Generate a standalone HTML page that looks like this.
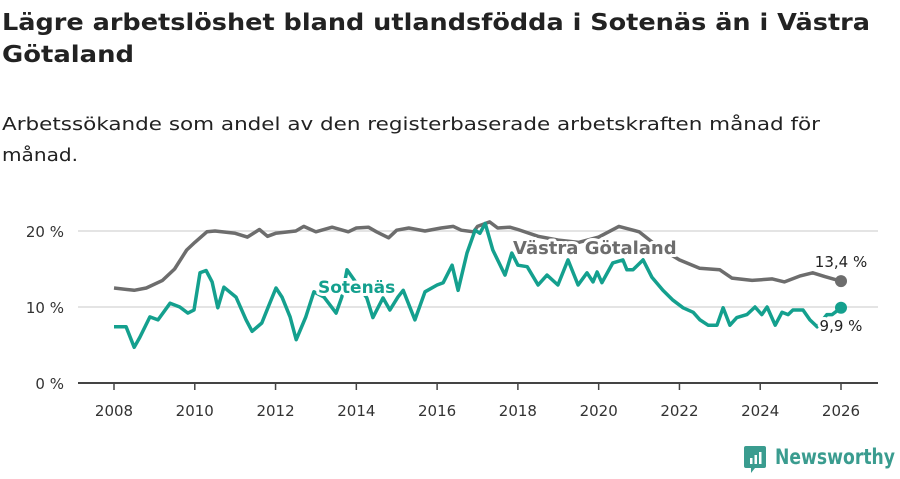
<!DOCTYPE html>
<html><head><meta charset="utf-8"><style>
body{margin:0;background:#fff;}
svg text{font-family:"DejaVu Sans","Liberation Sans",sans-serif;}
</style></head><body>
<svg id="chart" width="900" height="474" viewBox="0 0 900 474" xmlns="http://www.w3.org/2000/svg">
<rect width="900" height="474" fill="#fff"/>
<text x="2" y="30" font-size="23" font-weight="bold" fill="#222" textLength="868" lengthAdjust="spacingAndGlyphs">Lägre arbetslöshet bland utlandsfödda i Sotenäs än i Västra</text>
<text x="2" y="62" font-size="23" font-weight="bold" fill="#222" textLength="132" lengthAdjust="spacingAndGlyphs">Götaland</text>
<text x="2" y="130" font-size="18" fill="#222" textLength="818" lengthAdjust="spacingAndGlyphs">Arbetssökande som andel av den registerbaserade arbetskraften månad för</text>
<text x="2" y="161" font-size="18" fill="#222" textLength="76" lengthAdjust="spacingAndGlyphs">månad.</text>
<g id="grid"></g><g id="axes"></g><g id="series"></g><g id="labels"></g>
<g>
<path d="M746 446 h18 a2 2 0 0 1 2 2 v18 a2 2 0 0 1 -2 2 h-9 l-4 5 v-5 h-5 a2 2 0 0 1 -2 -2 v-18 a2 2 0 0 1 2 -2z" fill="#3a9c8f"/>
<rect x="750" y="458" width="2.5" height="6" fill="#fff"/><rect x="754.5" y="455" width="2.5" height="9" fill="#fff"/><rect x="759" y="452" width="2.5" height="12" fill="#fff"/>
<text x="775" y="464" font-size="21" font-weight="bold" fill="#3a9c8f" textLength="120" lengthAdjust="spacingAndGlyphs">Newsworthy</text>
</g>
</svg>
<script>
const yTicks=[0,10,20];
const yTickLabels=["0 %","10 %","20 %"];
const xTicks=[2008,2010,2012,2014,2016,2018,2020,2022,2024,2026];
const vgDates=[2008.0,2008.5,2008.8,2009.2,2009.5,2009.8,2010.0,2010.3,2010.5,2011.0,2011.3,2011.6,2011.8,2012.0,2012.5,2012.7,2013.0,2013.4,2013.8,2014.0,2014.3,2014.5,2014.8,2015.0,2015.3,2015.7,2016.1,2016.4,2016.6,2016.9,2017.0,2017.3,2017.5,2017.8,2018.0,2018.5,2019.0,2019.5,2020.0,2020.5,2021.0,2021.5,2022.0,2022.5,2023.0,2023.3,2023.8,2024.3,2024.6,2025.0,2025.3,2025.6,2026.0];
const vgValues=[12.5,12.2,12.5,13.5,15,17.5,18.5,19.9,20,19.7,19.2,20.2,19.3,19.7,20,20.6,19.9,20.5,19.9,20.4,20.5,19.9,19.1,20.1,20.4,20,20.4,20.6,20.1,19.9,20.6,21.2,20.4,20.5,20.2,19.3,18.8,18.5,19.2,20.6,19.9,17.8,16.2,15.1,14.9,13.8,13.5,13.7,13.3,14.1,14.5,14,13.4];
const soXs=[114,126,134,140,150,158,170,180,188,194,200,206,212,218,224,236,246,252,262,268,276,282,290,296,306,314,324,336,342,347,367,373,383,390,398,403,415,425,437,443,452,458,467,475,480,485,493,505,512,518,527,538,547,558,568,578,587,593,597,602,613,623,627,633,643,652,663,673,683,693,700,708,717,723,730,737,747,755,762,767,775,782,788,793,803,810,817,827,832,841];
const soDates=soXs.map(x=>+(2008+(x-114)/40.39).toFixed(2));
const soValues=[7.4,7.4,4.7,6,8.7,8.3,10.5,10,9.2,9.6,14.5,14.8,13.3,9.9,12.6,11.3,8.3,6.8,7.9,9.9,12.5,11.3,8.7,5.7,8.7,12,11.3,9.2,11.3,14.9,11.2,8.6,11.2,9.6,11.3,12.2,8.3,12,12.9,13.2,15.5,12.2,17.1,20.1,19.7,21,17.5,14.2,17.1,15.5,15.3,12.9,14.2,12.9,16.2,12.9,14.5,13.3,14.6,13.2,15.8,16.2,14.9,14.9,16.2,13.9,12.2,10.9,9.9,9.3,8.3,7.6,7.6,9.9,7.6,8.6,9,10,9,10,7.6,9.3,9,9.6,9.6,8.3,7.4,9,9,9.9];
const NS="http://www.w3.org/2000/svg";
const X0=114,X1=841,Y0=383,PY=7.6;
function xs(d){return X0+(d-2008)*(X1-X0)/18;}
function ys(v){return Y0-v*PY;}
function mk(t,a,p){const e=document.createElementNS(NS,t);for(const k in a)e.setAttribute(k,a[k]);p.appendChild(e);return e;}
const grid=document.getElementById('grid'),axes=document.getElementById('axes'),ser=document.getElementById('series'),lab=document.getElementById('labels');
yTicks.forEach((v,i)=>{
 if(v>0){const g=mk('line',{x1:78,x2:878,y1:ys(v),y2:ys(v),stroke:'#dcdcdc','stroke-width':1.5},grid);
 
 }
 const t=mk('text',{x:64,y:ys(v)+6,'font-size':15,fill:'#333','text-anchor':'end'},axes);t.textContent=yTickLabels[i];
 
 
});
const ax=mk('line',{x1:78,x2:878,y1:Y0,y2:Y0,stroke:'#444','stroke-width':2},axes);


xTicks.forEach(y=>{
 mk('line',{x1:xs(y),x2:xs(y),y1:Y0,y2:Y0+7,stroke:'#444','stroke-width':1.5},axes);
 const t=mk('text',{x:xs(y),y:416,'font-size':15,fill:'#333','text-anchor':'middle'},axes);t.textContent=y;
 
 
});
function line(ds,vs,col,name){
 const d=ds.map((x,i)=>(i?'L':'M')+xs(x).toFixed(1)+' '+ys(vs[i]).toFixed(1)).join(' ');
 const p=mk('path',{d:d,fill:'none',stroke:col,'stroke-width':3.5,'stroke-linejoin':'round'},ser);
 
 
 const c=mk('circle',{cx:xs(ds[ds.length-1]),cy:ys(vs[vs.length-1]),r:6,fill:col},ser);
 
 
}
line(vgDates,vgValues,'#6d6d6d','vastra-gotaland-line');
line(soDates,soValues,'#14a08e','sotenas-line');
function label(txt,x,y,size,col,bold,anchor,name){
 const t=mk('text',{x:x,y:y,'font-size':size,fill:col,'font-weight':bold?'bold':'normal','text-anchor':anchor,stroke:'#fff','stroke-width':6,'paint-order':'stroke','stroke-linejoin':'round'},lab);
 t.textContent=txt;
 
 
}
label('Västra Götaland',513,254,18,'#6d6d6d',true,'start','vastra-gotaland-label');
label('Sotenäs',318,293,17,'#14a08e',true,'start','sotenas-label');
label((vgValues[vgValues.length-1]+'').replace('.',',')+' %',841,267,15,'#222',false,'middle','vastra-gotaland-end-value');
label((soValues[soValues.length-1]+'').replace('.',',')+' %',841,331,15,'#222',false,'middle','sotenas-end-value');
</script>
</body></html>
